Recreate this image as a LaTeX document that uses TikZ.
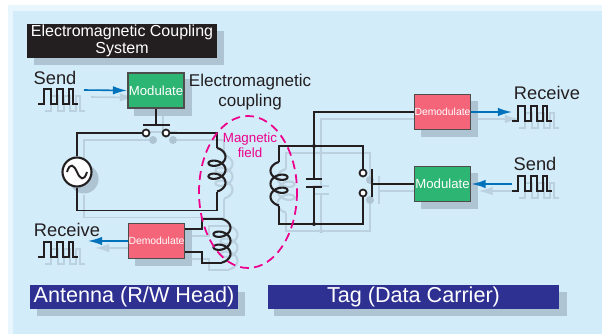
\documentclass[tikz,border=0pt]{standalone}
\usepackage{fontspec}
\setmainfont{Liberation Sans}
\usetikzlibrary{arrows.meta,backgrounds}

\definecolor{panelc}{HTML}{D3ECFA}
\definecolor{edgec}{HTML}{EAF6FD}
\definecolor{shadowc}{HTML}{AFC4D3}
\definecolor{greyline}{HTML}{BBD1DF}
\definecolor{titlec}{HTML}{231F20}
\definecolor{navyc}{HTML}{2E3192}
\definecolor{modc}{HTML}{2DB573}
\definecolor{demodc}{HTML}{F4657A}
\definecolor{bluec}{HTML}{0072BC}
\definecolor{fieldc}{HTML}{EC008C}
\colorlet{wirec}{titlec}
\colorlet{arrowc}{bluec}

\tikzset{
  wire/.style={draw=wirec,line width=1pt,line join=miter},
  flow/.style={draw=arrowc,line width=0.9pt,-{Latex[length=8pt,width=4.8pt]}},
  block/.style={draw=titlec!80,line width=1pt,inner sep=0pt,text=white,minimum height=20pt,minimum width=32pt},
  modbox/.style={block,fill=modc,font=\fontsize{7.5}{9}\selectfont},
  demodbox/.style={block,fill=demodc,font=\fontsize{5.9}{7}\selectfont},
  label/.style={text=titlec,font=\fontsize{10.4}{12}\selectfont,inner sep=0pt,align=center},
  band/.style={fill=navyc,text=white,inner sep=0pt,minimum height=13.6pt,font=\fontsize{12.3}{14}\selectfont},
  contact/.style={draw=wirec,fill=white,circle,line width=1pt,inner sep=0pt,minimum size=4pt}
}

% one coil: centre line, top end, side of the lobes
\newcommand{\coil}[3]{
  \draw[wire,line width=1.2pt] plot[smooth,domain=-90:810,samples=73,variable=\t]
    ({#1+#3*8.5*cos(\t)},{#2+3.25+13*\t/360+5.5*sin(\t)+5.5});
}
% square wave
\newcommand{\pulses}[2]{
  \draw[wire,line width=0.7pt] (#1,#2) -- ++(6,0) -- ++(0,-15) -- ++(7,0) -- ++(0,15) -- ++(6,0) -- ++(0,-15)
    -- ++(6,0) -- ++(0,15) -- ++(6,0) -- ++(0,-15) -- ++(4,0) -- ++(0,15) -- ++(5,0);
}
% everything that is drawn twice, once as a shadow
\newcommand{\wiring}{
  \draw[wire] (modA) -- (barA);
  \draw[wire] (barL) -- (barR);
  \draw[wire] (swA.west) -| (source.north);
  \draw[wire] (source.south) |- (cornerA) -- (coilAend);
  \draw[wire] (swB.east) -| (coilAtop);
  \coil{217}{148}{1}
  \draw[wire] (outA) -| (stepA) -- (coilBtop);
  \draw[wire] (outB) -| (stepB) -- (coilBend);
  \coil{222}{219}{1}
  \draw[wire] (demodB.west) -- (cornerB) -- (jtop);
  \draw[wire] (jtop) -- (capA);
  \draw[wire] (capB) -- (jbot);
  \draw[wire] (plateAl) -- (plateAr);
  \draw[wire] (plateBl) -- (plateBr);
  \draw[wire] (coilCtop) |- (jtop) -| (swC.north);
  \draw[wire] (coilCend) |- (jbot) -| (swD.south);
  \coil{279}{162}{-1}
  \draw[wire] (bladeA) -- (bladeB);
  \draw[wire] (bladeM) -- (modB.west);
  \pulses{38}{104}
  \pulses{38}{257}
  \pulses{512}{121}
  \pulses{512}{191}
  \draw[flow] (sendA) -- (modA.west);
  \draw[flow] (demodA.west) -- (recvA);
  \draw[flow] (demodB.east) -- (recvB);
  \draw[flow] (sendB) -- (modB.east);
}

\begin{document}
\begin{tikzpicture}[x=0.02cm,y=-0.02cm]
\useasboundingbox (0,0) rectangle (602,334);

\node[fill=titlec,text=white,inner sep=0pt,minimum width=108pt,minimum height=19.3pt,align=center,font=\fontsize{9.1}{9.5}\selectfont] (title) at (122,41) {Electromagnetic Coupling\\System};
\node[modbox] (modA) at (156,90.5) {Modulate};
\node[demodbox] (demodA) at (156.5,241) {Demodulate};
\node[demodbox] (demodB) at (442.5,112) {Demodulate};
\node[modbox] (modB) at (442.5,184) {Modulate};
\node[band,minimum width=118pt] (antenna) at (134,297) {Antenna (R/W Head)};
\node[band,minimum width=166pt] (tag) at (413.5,297) {Tag (Data Carrier)};

\node[draw=wirec,fill=white,circle,line width=1.2pt,inner sep=0pt,minimum size=16.5pt] (source) at (77,172) {};
\node[contact] (swA) at (146,133) {};
\node[contact] (swB) at (166,133) {};
\node[contact] (swC) at (363,173) {};
\node[contact] (swD) at (363,193) {};

\coordinate (barA) at (156,125);
\coordinate (barL) at (143,125);
\coordinate (barR) at (170,125);
\coordinate (cornerA) at (217,210.5);
\coordinate (coilAtop) at (217,148);
\coordinate (coilAend) at (217,192);
\coordinate (outA) at (185,229);
\coordinate (outB) at (185,252);
\coordinate (stepA) at (202,219);
\coordinate (stepB) at (202,263);
\coordinate (coilBtop) at (222,219);
\coordinate (coilBend) at (222,263);
\coordinate (cornerB) at (314,112);
\coordinate (jtop) at (314,146);
\coordinate (jbot) at (314,224);
\coordinate (capA) at (314,179);
\coordinate (capB) at (314,187);
\coordinate (plateAl) at (306,179);
\coordinate (plateAr) at (322,179);
\coordinate (plateBl) at (306,187);
\coordinate (plateBr) at (322,187);
\coordinate (coilCtop) at (279,162);
\coordinate (coilCend) at (279,206);
\coordinate (bladeA) at (372,169);
\coordinate (bladeB) at (372,197);
\coordinate (bladeM) at (372,184);
\coordinate (sendA) at (84,90);
\coordinate (recvA) at (88,241);
\coordinate (recvB) at (512,112);
\coordinate (sendB) at (512,184);

\node[label] (send1) at (55,78) {Send};
\node[label] (recv1) at (67,230) {Receive};
\node[label] (recv2) at (547,93) {Receive};
\node[label] (send2) at (535,164) {Send};
\node[label,font=\fontsize{9.7}{11.8}\selectfont] (emc) at (250,92) {Electromagnetic\\coupling};
\node[text=fieldc,align=center,inner sep=0pt,font=\fontsize{7.6}{8.6}\selectfont] (field) at (250,145.5) {Magnetic\\field};

\begin{pgfonlayer}{background}
\fill[edgec] (8,5) rectangle (602,334);
\fill[panelc] (13,11) rectangle (602,334);
\begin{scope}[transform canvas={shift={(7,7)}}]
\colorlet{wirec}{greyline}
\colorlet{arrowc}{greyline}
\foreach \n in {title,modA,modB,demodA,demodB,antenna,tag} {
  \fill[shadowc] (\n.north west) rectangle (\n.south east);
}
\fill[shadowc] (source) circle (14.5);
\foreach \n in {swA,swB,swC,swD} {
  \fill[shadowc] (\n) circle (4);
}
\fill[shadowc] (jtop) circle (2);
\fill[shadowc] (jbot) circle (2);
\wiring
\end{scope}
\end{pgfonlayer}

\wiring
\draw[wire,line width=1.1pt] (67,172) .. controls (70,162) and (74,165) .. (77,172) .. controls (80,179) and (84,182) .. (87,172);
\fill[wirec] (jtop) circle (2);
\fill[wirec] (jbot) circle (2);

\draw[fieldc,line width=1pt,dash pattern=on 5pt off 3pt] (248,192) ellipse (49 and 76);
\end{tikzpicture}
\end{document}
